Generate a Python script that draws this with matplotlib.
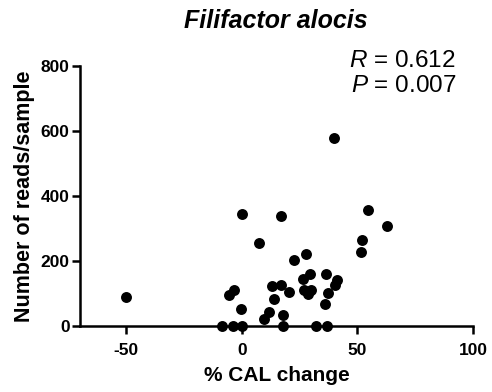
import matplotlib
matplotlib.use("Agg")
import matplotlib.pyplot as plt

plt.rcParams['font.family'] = ['Liberation Sans', 'DejaVu Sans']
plt.rcParams['mathtext.fontset'] = 'custom'
plt.rcParams['mathtext.rm'] = 'Liberation Sans'
plt.rcParams['mathtext.it'] = 'Liberation Sans:italic'
plt.rcParams['axes.unicode_minus'] = False

cal_change = [-50, -8.5, -4, 0, -5.6, -3.2, -0.3, 0, 7.4, 9.5, 11.6, 13.9, 13.1, 17,
              17.8, 17.8, 17, 20.6, 22.6, 27.8, 26.5, 29.7, 26.8, 30, 28.7, 36.2,
              37.4, 35.9, 41.3, 40.3, 31.9, 36.9, 40, 51.4, 51.8, 54.7, 62.6]
reads = [90, 0, 0, 0, 95, 110, 51, 345, 255, 22, 42, 84, 124, 127,
         34, 0, 340, 105, 202, 223, 146, 160, 112, 110, 100, 160,
         102, 67, 143, 126, 0, 0, 578, 228, 266, 356, 309]

xticks = [-50, 0, 50, 100]
yticks = [0, 200, 400, 600, 800]

fig = plt.figure(figsize=(4.92, 3.92), dpi=100)
ax = fig.add_axes([80/492, 1-326/392, (473-80)/492, (326-66)/392])

ax.scatter(cal_change, reads, s=62, color='black', zorder=3, clip_on=False, linewidths=0)

ax.set_xlim(-70, 100)
ax.set_ylim(0, 800)
ax.set_xticks(xticks)
ax.set_yticks(yticks)
for s in ['top', 'right']:
    ax.spines[s].set_visible(False)
for s in ['left', 'bottom']:
    ax.spines[s].set_linewidth(1.8)
ax.tick_params(width=1.8, length=6, labelsize=12.5)
ax.tick_params(axis='y', pad=1.5)
ax.tick_params(axis='x', pad=6)
for lab in ax.get_xticklabels() + ax.get_yticklabels():
    lab.set_fontweight('bold')

ax.set_xlabel('% CAL change', fontsize=15, fontweight='bold', labelpad=6)
ax.set_ylabel('Number of reads/sample', fontsize=15.5, fontweight='bold', labelpad=4)
fig.text(276/492, 1-21/392, 'Filifactor alocis', fontsize=18, fontweight='bold',
         style='italic', ha='center', va='center')

fig.text(456/492, 1-61/392, r'$R$ = 0.612', ha='right', va='center', fontsize=17.5)
fig.text(456/492, 1-86/392, r'$P$ = 0.007', ha='right', va='center', fontsize=17.5)

fig.savefig('out.png', dpi=100)
